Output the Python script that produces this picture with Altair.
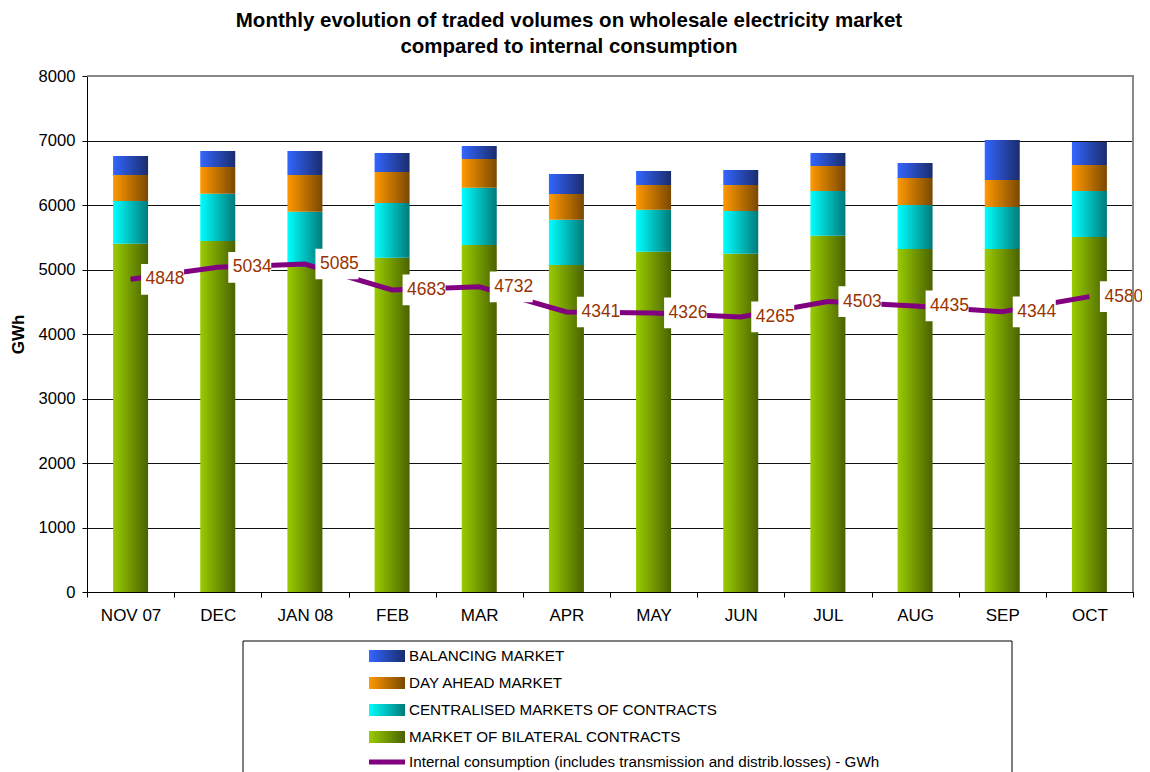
import altair as alt
import pandas as pd

MONTHS = ["NOV 07", "DEC", "JAN 08", "FEB", "MAR", "APR", "MAY", "JUN", "JUL", "AUG", "SEP", "OCT"]
BILATERAL = [5400, 5442, 5039, 5183, 5380, 5070, 5276, 5245, 5525, 5318, 5318, 5504]
CENTRALISED = [662, 733, 858, 848, 889, 703, 652, 662, 692, 682, 651, 713]
DAY_AHEAD = [403, 414, 568, 481, 444, 398, 382, 403, 388, 419, 419, 403]
BALANCING = [295, 248, 372, 294, 202, 310, 217, 233, 201, 232, 620, 357]
CONSUMPTION = [4848, 5034, 5085, 4683, 4732, 4341, 4326, 4265, 4503, 4435, 4344, 4580]

SERIES = ["MARKET OF BILATERAL CONTRACTS", "CENTRALISED MARKETS OF CONTRACTS",
          "DAY AHEAD MARKET", "BALANCING MARKET"]
LINE_NAME = "Internal consumption (includes transmission and distrib.losses) - GWh"
TITLE_LINES = ["Monthly evolution of traded volumes on wholesale electricity market",
               "compared to internal consumption"]
Y_TICKS = [0, 1000, 2000, 3000, 4000, 5000, 6000, 7000, 8000]

GRADS = {
    "MARKET OF BILATERAL CONTRACTS": ("#99CC00", "#4A6200"),
    "CENTRALISED MARKETS OF CONTRACTS": ("#00FFFF", "#007A7A"),
    "DAY AHEAD MARKET": ("#FF9900", "#7A4800"),
    "BALANCING MARKET": ("#3366FF", "#1A2C6C"),
}

W, H = 1046, 516
FONT = "Liberation Sans"

rows = []
vals = [BILATERAL, CENTRALISED, DAY_AHEAD, BALANCING]
for i, m in enumerate(MONTHS):
    base = 0
    for s, v in zip(SERIES, vals):
        rows.append({"month": m, "series": s, "bottom": base, "top": base + v[i]})
        base += v[i]
bars_df = pd.DataFrame(rows)
line_df = pd.DataFrame({"month": MONTHS, "value": CONSUMPTION})


def grad(c1, c2):
    return alt.Gradient(gradient="linear", x1=0, x2=1, y1=0, y2=0,
                        stops=[alt.GradientStop(color=c1, offset=0),
                               alt.GradientStop(color=c2, offset=1)])


x_axis = alt.Axis(labelFontSize=17, labelColor="black", labelFont=FONT,
                  labelAngle=0, labelPadding=10, tickBand="extent",
                  tickSize=5, tickColor="black", domainColor="black",
                  grid=False, title=None)
y_scale = alt.Scale(domain=[0, 8000], nice=False, zero=True)
y_axis = alt.Axis(values=Y_TICKS, format="d", labelFontSize=16.6, labelColor="black",
                  labelFont=FONT, labelPadding=7, tickSize=5, tickColor="black",
                  domainColor="black", grid=True, gridColor="#111111", gridWidth=1,
                  title="GWh", titleFontSize=17, titleFont=FONT, titleFontWeight="bold",
                  titleX=-69, titleY=H / 2, titleAngle=-90, titleAlign="center",
                  titleBaseline="middle", titleColor="black")
x_scale = alt.Scale(paddingInner=0, paddingOuter=0)

layers = []
for s in SERIES:
    c1, c2 = GRADS[s]
    layers.append(
        alt.Chart(bars_df).transform_filter(alt.datum.series == s)
        .mark_bar(size=35, fill=grad(c1, c2))
        .encode(x=alt.X("month:N", sort=MONTHS, scale=x_scale, axis=x_axis),
                y=alt.Y("bottom:Q", scale=y_scale, axis=y_axis),
                y2="top:Q")
    )

line = alt.Chart(line_df).mark_line(color="#800080", strokeWidth=5).encode(
    x=alt.X("month:N", sort=MONTHS, scale=x_scale, axis=x_axis),
    y=alt.Y("value:Q", scale=y_scale, axis=y_axis))
boxes = alt.Chart(line_df).mark_point(
    shape="M-1,-0.714L1,-0.714L1,0.714L-1,0.714Z", size=1849, filled=True,
    fill="white", opacity=1, strokeWidth=0, xOffset=32).encode(
    x=alt.X("month:N", sort=MONTHS, scale=x_scale, axis=x_axis),
    y=alt.Y("value:Q", scale=y_scale, axis=y_axis))
labels = alt.Chart(line_df).mark_text(
    align="left", baseline="middle", dx=15, fontSize=17.5, font=FONT,
    color="#993300").encode(
    x=alt.X("month:N", sort=MONTHS, scale=x_scale, axis=x_axis),
    y=alt.Y("value:Q", scale=y_scale, axis=y_axis),
    text=alt.Text("value:Q", format="d"))

dummy = pd.DataFrame({"a": [0]})
top_border = alt.Chart(dummy).mark_rule(color="#888888", strokeWidth=2).encode(
    x=alt.value(0), x2=alt.value(W + 1), y=alt.value(0))
right_border = alt.Chart(dummy).mark_rule(color="#888888", strokeWidth=2).encode(
    x=alt.value(W), y=alt.value(0), y2=alt.value(H))

title_layers = []
for t, ty in zip(TITLE_LINES, [-49, -23]):
    title_layers.append(
        alt.Chart(dummy).mark_text(text=t, fontSize=20.5, fontWeight="bold", font=FONT,
                                   align="center", baseline="alphabetic", color="black")
        .encode(x=alt.value(482), y=alt.value(ty)))

# legend
legend_layers = [
    alt.Chart(dummy).mark_rect(fill="white", stroke="black", strokeWidth=1).encode(
        x=alt.value(156), x2=alt.value(925), y=alt.value(565), y2=alt.value(720))
]
legend_items = ["BALANCING MARKET", "DAY AHEAD MARKET", "CENTRALISED MARKETS OF CONTRACTS",
                "MARKET OF BILATERAL CONTRACTS"]
row_y = [580, 607, 634, 661, 686]
for name, ry in zip(legend_items, row_y):
    c1, c2 = GRADS[name]
    legend_layers.append(
        alt.Chart(dummy).mark_rect(fill=grad(c1, c2)).encode(
            x=alt.value(282), x2=alt.value(318), y=alt.value(ry - 6), y2=alt.value(ry + 6)))
    legend_layers.append(
        alt.Chart(dummy).mark_text(text=name, fontSize=15.2, font=FONT, align="left",
                                   baseline="middle", color="black")
        .encode(x=alt.value(322), y=alt.value(ry)))
legend_layers.append(
    alt.Chart(dummy).mark_rule(color="#800080", strokeWidth=5).encode(
        x=alt.value(282), x2=alt.value(318), y=alt.value(row_y[4])))
legend_layers.append(
    alt.Chart(dummy).mark_text(text=LINE_NAME, fontSize=15.2, font=FONT, align="left",
                               baseline="middle", color="black")
    .encode(x=alt.value(322), y=alt.value(row_y[4])))

chart = alt.layer(*layers, line, boxes, labels, top_border, right_border,
                  *title_layers, *legend_layers).properties(
    width=W, height=H,
    autosize=alt.AutoSizeParams(type="none"),
    padding={"left": 79, "top": 68, "right": 9, "bottom": 180},
).configure_view(stroke=None).configure(font=FONT)

chart.save("out.html", embed_options={"renderer": "svg", "actions": False})
